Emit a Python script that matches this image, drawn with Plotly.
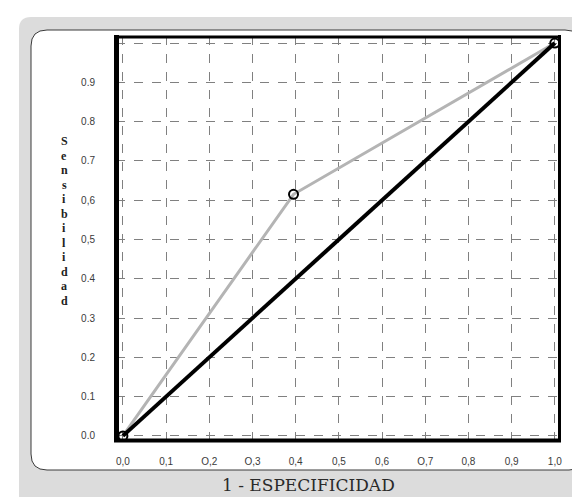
import plotly.graph_objects as go

# ---- data ----
fpr = [0.0, 0.395, 1.0]            # 1 - especificidad
tpr = [0.0, 0.615, 1.0]            # sensibilidad
diag_x = [0.0, 1.0]
diag_y = [0.0, 1.0]
x_tickvals = [0.0, 0.1, 0.2, 0.3, 0.4, 0.5, 0.6, 0.7, 0.8, 0.9, 1.0]
x_ticktext = ["0,0", "0,1", "O,2", "O,3", "0,4", "0,5", "0,6", "O,7", "0,8", "0,9", "1,0"]
y_tickvals = [0.0, 0.1, 0.2, 0.3, 0.4, 0.5, 0.6, 0.7, 0.8, 0.9, 1.0]
y_ticktext = ["0.0", "0.1", "0.2", "0.3", "0.4", "0,5", "0,6", "0.7", "0.8", "0.9", ""]
y_title = "Sensibilidad"
x_title = "1 - ESPECIFICIDAD"

W, H = 580, 497
L, R, T, B = 108, 552, 28, 433   # plot-area pixel box


def px(x):
    return (x - L) / (R - L)


def py(y):
    return (B - y) / (B - T)


def rrect(x0, y0, x1, y1, r_tl, r_tr, r_br, r_bl):
    p = []
    p.append(f"M {px(x0 + r_tl)},{py(y0)}")
    p.append(f"L {px(x1 - r_tr)},{py(y0)}")
    p.append(f"Q {px(x1)},{py(y0)} {px(x1)},{py(y0 + r_tr)}")
    p.append(f"L {px(x1)},{py(y1 - r_br)}")
    p.append(f"Q {px(x1)},{py(y1)} {px(x1 - r_br)},{py(y1)}")
    p.append(f"L {px(x0 + r_bl)},{py(y1)}")
    p.append(f"Q {px(x0)},{py(y1)} {px(x0)},{py(y1 - r_bl)}")
    p.append(f"L {px(x0)},{py(y0 + r_tl)}")
    p.append(f"Q {px(x0)},{py(y0)} {px(x0 + r_tl)},{py(y0)}")
    p.append("Z")
    return " ".join(p)


fig = go.Figure()
fig.add_trace(go.Scatter(x=fpr, y=tpr, mode="lines",
                         line=dict(color="#b4b4b4", width=3),
                         hoverinfo="skip", showlegend=False))
fig.add_trace(go.Scatter(x=diag_x, y=diag_y, mode="lines",
                         line=dict(color="black", width=4),
                         hoverinfo="skip", showlegend=False))
fig.add_trace(go.Scatter(x=fpr, y=tpr, mode="markers",
                         marker=dict(symbol="circle-open", size=9,
                                     color="black", line=dict(width=2)),
                         hoverinfo="skip", showlegend=False))


def frame_line(x0, y0, x1, y1, w):
    return dict(type="line", xref="paper", yref="paper", layer="above",
                x0=x0, y0=y0, x1=x1, y1=y1, line=dict(color="black", width=w))


shapes = [
    dict(type="path", xref="paper", yref="paper", layer="below",
         path=rrect(11, 9, 600, 520, 12, 0, 0, 12),
         fillcolor="#dcdcdc", line=dict(width=0)),
    dict(type="path", xref="paper", yref="paper", layer="below",
         path=rrect(23, 22, 577, 462, 16, 20, 16, 16),
         fillcolor="white", line=dict(color="#3a3a3a", width=1)),
    frame_line(px(108.5), py(27), px(108.5), py(434), 5),
    frame_line(px(106), py(29), px(553), py(29), 3),
    frame_line(px(106), py(432.5), px(553), py(432.5), 4),
    frame_line(px(551.5), py(27), px(551.5), py(434), 3),
]

annotations = []
n = len(y_title)
y_top, y_bot = 133, 293
for i, ch in enumerate(y_title):
    yy = y_top + (y_bot - y_top) * i / (n - 1)
    annotations.append(dict(xref="paper", yref="paper", x=px(56), y=py(yy),
                            text=f"<b>{ch}</b>", showarrow=False,
                            xanchor="center", yanchor="middle",
                            font=dict(family="Liberation Serif", size=12,
                                      color="#222")))

annotations.append(dict(xref="paper", yref="paper", x=px(300), y=py(477),
                        text=x_title, showarrow=False, xanchor="center",
                        yanchor="middle",
                        font=dict(family="DejaVu Serif", size=17,
                                  color="#2a2a2a")))

fig.update_layout(
    width=W, height=H,
    margin=dict(l=L, r=W - R, t=T, b=H - B, pad=0),
    paper_bgcolor="white", plot_bgcolor="rgba(0,0,0,0)",
    shapes=shapes, annotations=annotations,
    xaxis=dict(range=[-0.016, 1.012], tickvals=x_tickvals, ticktext=x_ticktext,
               showgrid=True, gridcolor="#808080", griddash="dash", gridwidth=1,
               zeroline=False, showline=False, ticks="",
               ticklabelstandoff=13,
               tickfont=dict(family="Liberation Sans", size=10, color="#3a3a3a")),
    yaxis=dict(range=[-0.013, 1.018], tickvals=y_tickvals, ticktext=y_ticktext,
               showgrid=True, gridcolor="#808080", griddash="dash", gridwidth=1,
               zeroline=False, showline=False, ticks="",
               ticklabelstandoff=20,
               tickfont=dict(family="Liberation Sans", size=10, color="#3a3a3a")),
)

fig.write_html("out.html")
